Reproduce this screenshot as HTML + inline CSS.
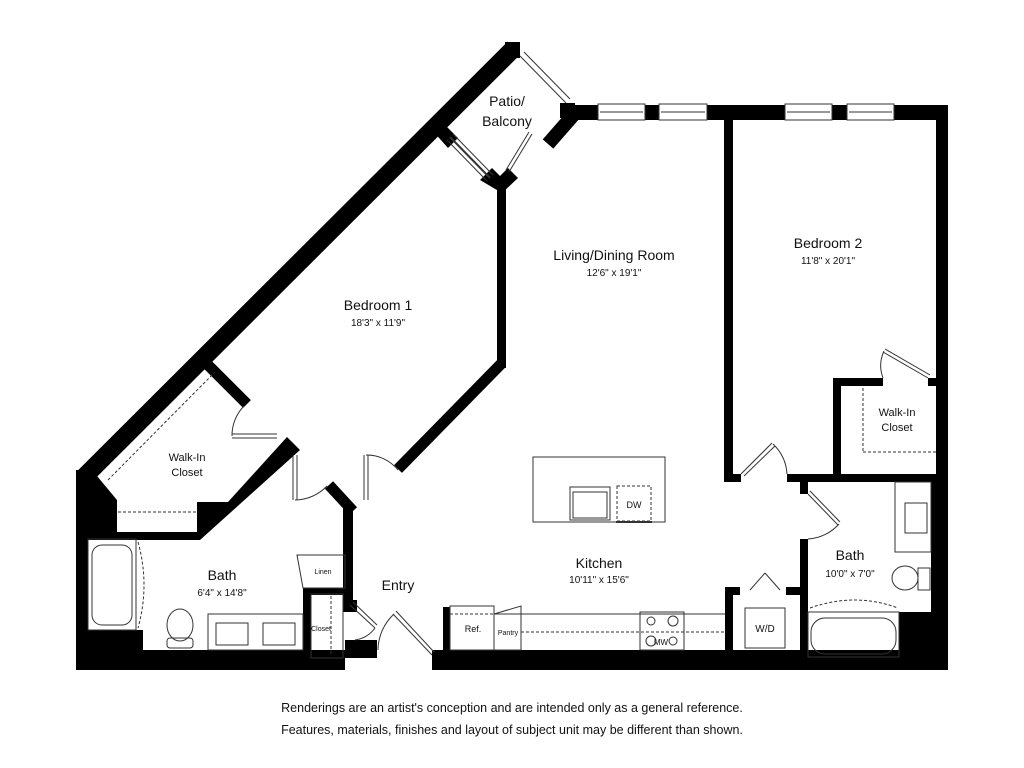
<!DOCTYPE html>
<html><head><meta charset="utf-8"><style>
html,body{margin:0;padding:0;background:#fff;}
svg{display:block;}
text{font-family:"Liberation Sans",sans-serif;fill:#111;text-anchor:middle;}
</style></head><body>
<svg width="1024" height="768" viewBox="0 0 1024 768" xmlns="http://www.w3.org/2000/svg">
<rect width="1024" height="768" fill="#fff"/>
<g fill="#000" stroke="none">
  <!-- main outer diagonal wall -->
  <line x1="83" y1="478" x2="514" y2="48" stroke="#000" stroke-width="18"/>
  <polygon points="505,42 520,42 520,58 505,58"/>
  <!-- left outer black region -->
  <polygon points="76,470 92,470 117,500 117,540 88,540 88,630 143,630 143,650 345,650 345,670 76,670"/>
  <!-- closet lower wall -->
  <polygon points="117,532 197,532 197,502 228,502 287,437 300,450 200,540 117,540"/>
  <!-- closet upper wall (walk-in to bed1) -->
  <line x1="205" y1="362" x2="247" y2="404" stroke="#000" stroke-width="11"/>
  <!-- small wall by bed1 door -->
  <line x1="329" y1="485" x2="353" y2="511" stroke="#000" stroke-width="11"/>
  <rect x="343" y="508" width="10" height="96"/>
  <rect x="343" y="600" width="14" height="12"/>
  <rect x="345" y="640" width="32" height="18"/>
  <!-- linen/closet walls -->
  <rect x="303" y="588" width="42" height="7"/>
  <rect x="303" y="588" width="8" height="64"/>
  <!-- bedroom1 right wall -->
  <rect x="497" y="185" width="9" height="183"/>
  <line x1="501" y1="364" x2="398" y2="469" stroke="#000" stroke-width="11"/>
  <!-- patio blocks -->
  <polygon points="432,130 442,122 458,138 448,148"/>
  <polygon points="480,180 492,168 500,176 508,168 518,178 502,193"/>
  <line x1="548" y1="144" x2="576" y2="112" stroke="#000" stroke-width="14"/>
  <polygon points="560,103 575,103 575,118 560,118"/>
  <!-- top wall -->
  <rect x="572" y="105" width="26" height="15"/>
  <rect x="645" y="105" width="14" height="15"/>
  <rect x="707" y="105" width="78" height="15"/>
  <rect x="832" y="105" width="15" height="15"/>
  <rect x="894" y="105" width="54" height="15"/>
  <!-- right wall -->
  <rect x="936" y="105" width="12" height="565"/>
  <!-- bedroom2 left wall -->
  <rect x="724" y="118" width="9" height="364"/>
  <rect x="724" y="474" width="17" height="8"/>
  <rect x="787" y="474" width="150" height="8"/>
  <!-- bed2 closet -->
  <rect x="833" y="378" width="8" height="100"/>
  <rect x="833" y="378" width="50" height="8"/>
  <rect x="928" y="378" width="10" height="8"/>
  <!-- bath2 -->
  <rect x="800" y="480" width="8" height="14"/>
  <rect x="800" y="539" width="8" height="115"/>
  <rect x="931" y="480" width="17" height="140"/>
  <rect x="899" y="612" width="49" height="45"/>
  <!-- W/D -->
  <rect x="725" y="587" width="8" height="68"/>
  <rect x="725" y="587" width="15" height="8"/>
  <rect x="786" y="587" width="16" height="8"/>
  <!-- kitchen wall stub + bottom wall -->
  <rect x="443" y="607" width="7" height="50"/>
  <rect x="432" y="650" width="516" height="20"/>
</g>
<g fill="none" stroke="#333" stroke-width="1">
  <!-- windows top -->
  <rect x="598" y="104" width="47" height="16"/><line x1="600" y1="112" x2="643" y2="112"/>
  <rect x="659" y="104" width="48" height="16"/><line x1="661" y1="112" x2="705" y2="112"/>
  <rect x="785" y="104" width="47" height="16"/><line x1="787" y1="112" x2="830" y2="112"/>
  <rect x="847" y="104" width="47" height="16"/><line x1="849" y1="112" x2="892" y2="112"/>
  <!-- patio rail -->
  <line x1="520" y1="56" x2="566" y2="103"/><line x1="524" y1="52" x2="570" y2="99"/>
  <!-- patio window -->
  <line x1="447" y1="140" x2="487" y2="181"/><line x1="453" y1="134" x2="493" y2="175"/><line x1="450" y1="137" x2="490" y2="178" stroke-width="2"/>
  <!-- patio door -->
  <line x1="509" y1="172" x2="532" y2="134"/><line x1="506" y1="170" x2="529" y2="132"/>
  <!-- bed1 door -->
  <line x1="293" y1="455" x2="293" y2="500"/><line x1="297" y1="455" x2="297" y2="500"/>
  <path d="M295,500 A45,45 0 0 0 327,486"/>
  <line x1="364" y1="455" x2="364" y2="500"/><line x1="368" y1="455" x2="368" y2="500"/>
  <path d="M366,455 A40,40 0 0 1 398,470"/>
  <!-- closet door -->
  <line x1="232" y1="438" x2="277" y2="438"/><line x1="232" y1="434" x2="277" y2="434"/>
  <path d="M232,436 A42,42 0 0 1 244,406"/>
  <!-- dashed closet shelves -->
  <line x1="108" y1="480" x2="215" y2="372" stroke-dasharray="3,2"/>
  <line x1="118" y1="512" x2="196" y2="512" stroke-dasharray="3,2"/>
  <!-- bath1 fixtures -->
  <rect x="88" y="539" width="48" height="91"/>
  <rect x="92" y="545" width="40" height="80" rx="10"/>
  <path d="M138,542 Q150,585 138,628" stroke-dasharray="3,2"/>
  <ellipse cx="180" cy="625" rx="13" ry="16"/>
  <rect x="167" y="638" width="26" height="10" rx="3"/>
  <rect x="208" y="614" width="95" height="36"/>
  <rect x="216" y="623" width="32" height="22"/><rect x="263" y="623" width="32" height="22"/>
  <polygon points="297,555 345,555 345,588 303,588"/>
  <rect x="311" y="594" width="32" height="64"/>
  <line x1="331" y1="596" x2="331" y2="656" stroke-dasharray="3,2"/>
  <!-- closet door -->
  <line x1="350" y1="605" x2="375" y2="628"/><line x1="353" y1="602" x2="377" y2="625"/>
  <path d="M375,628 A30,30 0 0 1 355,640"/>
  <!-- entry door -->
  <line x1="393" y1="614" x2="432" y2="655"/><line x1="396" y1="611" x2="434" y2="652"/>
  <path d="M394,614 A50,50 0 0 0 378,650"/>
  <!-- kitchen -->
  <rect x="533" y="457" width="132" height="65"/>
  <rect x="570" y="487" width="40" height="33"/><rect x="573" y="492" width="34" height="26"/>
  <rect x="617" y="486" width="34" height="35" stroke-dasharray="3,2"/>
  <line x1="616" y1="522" x2="652" y2="522" stroke-width="2"/>
  <rect x="450" y="606" width="44" height="44"/>
  <polygon points="494,614 521,606 521,650 494,650"/>
  <line x1="494" y1="614" x2="725" y2="614"/>
  <line x1="450" y1="614" x2="494" y2="614" stroke-dasharray="3,2"/>
  <line x1="521" y1="632" x2="725" y2="632" stroke-dasharray="3,2"/>
  <rect x="640" y="612" width="44" height="38"/>
  <circle cx="651" cy="621" r="4"/><circle cx="673" cy="621" r="5"/><circle cx="651" cy="641" r="5"/><circle cx="673" cy="641" r="4"/>
  <!-- bed2 doors -->
  <line x1="741" y1="474" x2="772" y2="443"/><line x1="744" y1="476" x2="775" y2="446"/>
  <path d="M773,444 A45,45 0 0 1 787,474"/>
  <line x1="883" y1="352" x2="928" y2="378"/><line x1="885" y1="349" x2="930" y2="375"/>
  <path d="M884,351 A35,35 0 0 0 883,378"/>
  <line x1="863" y1="388" x2="863" y2="452" stroke-dasharray="3,2"/>
  <line x1="863" y1="452" x2="936" y2="452" stroke-dasharray="3,2"/>
  <!-- bath2 -->
  <line x1="808" y1="494" x2="838" y2="525"/><line x1="810" y1="491" x2="840" y2="522"/>
  <path d="M839,524 A45,45 0 0 1 808,539"/>
  <rect x="895" y="482" width="36" height="70"/><rect x="905" y="503" width="22" height="30"/>
  <ellipse cx="905" cy="578" rx="13" ry="12"/><rect x="918" y="568" width="12" height="22"/>
  <rect x="808" y="612" width="91" height="45"/><rect x="811" y="618" width="85" height="36" rx="14"/>
  <path d="M810,608 Q855,592 898,608" stroke-dasharray="3,2"/>
  <line x1="750" y1="590" x2="765" y2="573"/><line x1="765" y1="573" x2="780" y2="590"/>
  <rect x="745" y="608" width="40" height="40"/>
</g>
<g>
  <text x="507" y="106" font-size="14">Patio/</text>
  <text x="507" y="126" font-size="14">Balcony</text>
  <text x="614" y="260" font-size="14">Living/Dining Room</text>
  <text x="614" y="276" font-size="10">12'6" x 19'1"</text>
  <text x="828" y="248" font-size="14">Bedroom 2</text>
  <text x="828" y="264" font-size="10">11'8" x 20'1"</text>
  <text x="378" y="310" font-size="14">Bedroom 1</text>
  <text x="378" y="326" font-size="10">18'3" x 11'9"</text>
  <text x="187" y="461" font-size="11">Walk-In</text>
  <text x="187" y="476" font-size="11">Closet</text>
  <text x="897" y="416" font-size="11">Walk-In</text>
  <text x="897" y="431" font-size="11">Closet</text>
  <text x="222" y="580" font-size="14">Bath</text>
  <text x="222" y="596" font-size="10">6'4" x 14'8"</text>
  <text x="398" y="590" font-size="14">Entry</text>
  <text x="599" y="568" font-size="14">Kitchen</text>
  <text x="599" y="583" font-size="10">10'11" x 15'6"</text>
  <text x="850" y="560" font-size="14">Bath</text>
  <text x="850" y="577" font-size="10">10'0" x 7'0"</text>
  <text x="323" y="574" font-size="7">Linen</text>
  <text x="321" y="631" font-size="7">Closet</text>
  <text x="473" y="632" font-size="9">Ref.</text>
  <text x="508" y="635" font-size="7">Pantry</text>
  <text x="661" y="645" font-size="8">MW</text>
  <text x="634" y="508" font-size="9">DW</text>
  <text x="765" y="632" font-size="10">W/D</text>
  <text x="512" y="712" font-size="12.5" fill="#333">Renderings are an artist's conception and are intended only as a general reference.</text>
  <text x="512" y="734" font-size="12.5" fill="#333">Features, materials, finishes and layout of subject unit may be different than shown.</text>
</g>
</svg>
</body></html>
